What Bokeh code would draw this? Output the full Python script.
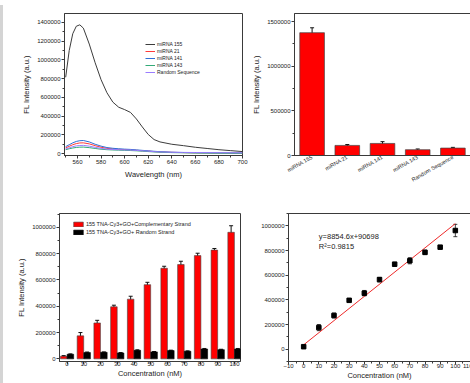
from bokeh.plotting import figure
from bokeh.models import (ColumnDataSource, Whisker, TeeHead, FactorRange, Label, Div, Spacer,
                          SingleIntervalTicker, FixedTicker, BasicTickFormatter, Range1d)
from bokeh.layouts import row, column
from bokeh.transform import dodge
from bokeh.embed import file_html
from bokeh.resources import INLINE

# ---------------- data ----------------
wavelength = [550, 553, 556, 559, 562, 565, 570, 575, 580, 585, 590, 595, 600, 605, 610, 615,
              620, 625, 630, 640, 650, 660, 670, 680, 690, 700]
mirna155 = [815000, 1100000, 1280000, 1360000, 1375000, 1340000, 1170000, 970000, 790000, 650000,
            550000, 495000, 470000, 440000, 370000, 285000, 205000, 150000, 125000, 100000, 85000,
            68000, 55000, 42000, 32000, 22000]
mirna21 = [62000, 78000, 95000, 107000, 114000, 115000, 104000, 85000, 68000, 56000, 50000, 46000,
           43000, 40000, 36000, 31000, 27000, 22000, 19000, 14000, 11000, 9000, 8000, 7000, 6000, 5000]
mirna141 = [75000, 95000, 115000, 130000, 138000, 140000, 125000, 100000, 80000, 65000, 57000, 52000,
            48000, 45000, 40000, 35000, 30000, 25000, 21000, 15000, 12000, 10000, 9000, 8000, 7000, 6000]
mirna143 = [42000, 52000, 60000, 66000, 69000, 70000, 64000, 55000, 47000, 42000, 39000, 37000,
            35000, 33000, 30000, 26000, 22000, 18000, 15000, 11000, 9000, 7000, 6000, 5000, 4000, 3000]
random_seq = [50000, 62000, 74000, 83000, 87000, 88000, 80000, 67000, 56000, 48000, 44000, 42000,
              40000, 38000, 34000, 30000, 26000, 21000, 18000, 14000, 13000, 12000, 11000, 10000, 9000, 8000]

bar_cats = ["miRNA 155", "miRNA 21", "miRNA 141", "miRNA 143", "Random Sequence"]
bar_vals = [1375000, 113000, 135000, 65000, 83000]
bar_errs = [55000, 10000, 20000, 8000, 8000]

conc = [0, 10, 20, 30, 40, 50, 60, 70, 80, 90, 100]
comp = [20000, 175000, 273000, 396000, 454000, 564000, 689000, 717000, 785000, 827000, 962000]
comp_err = [5000, 25000, 20000, 12000, 22000, 18000, 15000, 25000, 18000, 12000, 50000]
rand = [35000, 48000, 50000, 45000, 65000, 53000, 63000, 58000, 75000, 70000, 75000]
rand_err = [3000, 4000, 3000, 3000, 4000, 3000, 3000, 3000, 4000, 3000, 4000]

fit_x = [0, 100]
fit_y = [35000, 1018000]
eq_text = "y=8854.6x+90698"
r2_text = "R\u00b2=0.9815"

FONT = "Liberation Sans"
INK = "#222222"


def style(p):
    p.xgrid.visible = False
    p.ygrid.visible = False
    p.outline_line_color = "#3a3a3a"
    p.outline_line_width = 1
    p.background_fill_color = "white"
    p.border_fill_color = "white"
    for ax in p.axis:
        ax.axis_line_color = "#3a3a3a"
        ax.major_tick_in = 0
        ax.major_tick_out = 3
        ax.minor_tick_in = 0
        ax.minor_tick_out = 2
        ax.major_tick_line_color = "#3a3a3a"
        ax.minor_tick_line_color = "#3a3a3a"
        ax.major_label_text_font = FONT
        ax.major_label_text_font_size = "6px"
        ax.major_label_text_color = INK
        ax.axis_label_text_font = FONT
        ax.axis_label_text_font_size = "7.5px"
        ax.axis_label_text_font_style = "normal"
        ax.axis_label_text_color = INK
        ax.major_label_standoff = 1
        ax.axis_label_standoff = 3


# ---------------- panel 1: spectra ----------------
p1 = figure(width=241, height=190, output_backend="svg", toolbar_location=None,
            x_range=Range1d(549, 700), y_range=Range1d(-20000, 1496000),
            min_border_left=56, min_border_right=7, min_border_top=13, min_border_bottom=35)
src1 = ColumnDataSource(dict(w=wavelength, a=mirna155, b=mirna21, c=mirna141, d=mirna143, e=random_seq))
p1.line("w", "a", source=src1, line_color="#3c3c3c", line_width=1, legend_label="miRNA 155")
p1.line("w", "b", source=src1, line_color="#ff3b3b", line_width=1, legend_label="miRNA 21")
p1.line("w", "c", source=src1, line_color="#2f6fd6", line_width=1, legend_label="miRNA 141")
p1.line("w", "d", source=src1, line_color="#33aa77", line_width=1, legend_label="miRNA 143")
p1.line("w", "e", source=src1, line_color="#9a7cff", line_width=1, legend_label="Random Sequence")
p1.xaxis.ticker = SingleIntervalTicker(interval=20, num_minor_ticks=2)
p1.yaxis.ticker = SingleIntervalTicker(interval=200000, num_minor_ticks=2)
p1.yaxis.formatter = BasicTickFormatter(use_scientific=False)
p1.xaxis.axis_label = "Wavelength (nm)"
p1.yaxis.axis_label = "FL Intensity (a.u.)"
style(p1)
lg = p1.legend[0]
lg.location = (81, 80)
lg.background_fill_alpha = 0
lg.border_line_alpha = 0
lg.label_text_font = FONT
lg.label_text_font_size = "5px"
lg.label_text_color = INK
lg.glyph_height = 6
lg.glyph_width = 10
lg.label_height = 6
lg.spacing = 1
lg.padding = 0
lg.margin = 0
lg.label_standoff = 2

# ---------------- panel 2: bars ----------------
p2 = figure(width=223, height=190, output_backend="svg", toolbar_location=None,
            x_range=FactorRange(factors=bar_cats), y_range=Range1d(0, 1590000),
            min_border_left=43, min_border_right=2, min_border_top=12, min_border_bottom=34)
src2 = ColumnDataSource(dict(cat=bar_cats, v=bar_vals,
                             lo=[v - e for v, e in zip(bar_vals, bar_errs)],
                             hi=[v + e for v, e in zip(bar_vals, bar_errs)]))
p2.vbar(x="cat", top="v", width=0.7, source=src2, fill_color="#ff0000",
        line_color="#444444", line_width=0.7)
p2.add_layout(Whisker(base="cat", lower="lo", upper="hi", source=src2, line_color="#111111",
                      line_width=1,
                      upper_head=TeeHead(size=4, line_color="#111111", line_width=1),
                      lower_head=TeeHead(size=4, line_color="#111111", line_width=1)))
p2.yaxis.ticker = SingleIntervalTicker(interval=500000, num_minor_ticks=2)
p2.yaxis.formatter = BasicTickFormatter(use_scientific=False)
p2.yaxis.axis_label = "FL Intensity (a.u.)"
style(p2)
p2.xaxis.major_label_orientation = 0.52
p2.xaxis.major_label_text_font_size = "5.5px"
p2.xaxis.major_tick_out = 0

# ---------------- panel 3: grouped bars ----------------
p3 = figure(width=239, height=193, output_backend="svg", toolbar_location=None,
            x_range=Range1d(-4.5, 103.6), y_range=Range1d(-20000, 1105000),
            min_border_left=51, min_border_right=7, min_border_top=23, min_border_bottom=20)
src3 = ColumnDataSource(dict(c=conc, a=comp, b=rand,
                             alo=[v - e for v, e in zip(comp, comp_err)],
                             ahi=[v + e for v, e in zip(comp, comp_err)],
                             blo=[v - e for v, e in zip(rand, rand_err)],
                             bhi=[v + e for v, e in zip(rand, rand_err)]))
p3.vbar(x=dodge("c", -2, range=p3.x_range), top="a", width=3.9, source=src3,
        fill_color="#ff0000", line_color="#444444", line_width=0.6,
        legend_label="155 TNA-Cy3+GO+Complementary Strand")
p3.vbar(x=dodge("c", 2, range=p3.x_range), top="b", width=3.9, source=src3,
        fill_color="#000000", line_color="#000000", line_width=0.6,
        legend_label="155 TNA-Cy3+GO+ Random Strand")
for base_off, lo, hi in ((-2, "alo", "ahi"), (2, "blo", "bhi")):
    p3.add_layout(Whisker(base=dodge("c", base_off, range=p3.x_range), lower=lo, upper=hi,
                          source=src3, line_color="#111111", line_width=1,
                          upper_head=TeeHead(size=4, line_color="#111111", line_width=1),
                          lower_head=TeeHead(size=4, line_color="#111111", line_width=1)))
p3.xaxis.ticker = FixedTicker(ticks=conc)
p3.yaxis.ticker = SingleIntervalTicker(interval=200000, num_minor_ticks=2)
p3.yaxis.formatter = BasicTickFormatter(use_scientific=False)
p3.xaxis.axis_label = "Concentration (nM)"
p3.yaxis.axis_label = "FL Intensity (a.u.)"
style(p3)
p3.xaxis.major_label_standoff = -3
p3.xaxis.axis_label_standoff = 0
lg3 = p3.legend[0]
lg3.location = (13, 126)
lg3.background_fill_alpha = 0
lg3.border_line_alpha = 0
lg3.label_text_font = FONT
lg3.label_text_font_size = "5.5px"
lg3.label_text_color = INK
lg3.glyph_height = 6
lg3.glyph_width = 12
lg3.label_height = 6
lg3.spacing = 2
lg3.padding = 0
lg3.margin = 0
lg3.label_standoff = 2

# ---------------- panel 4: calibration ----------------
p4 = figure(width=225, height=193, output_backend="svg", toolbar_location=None,
            x_range=Range1d(-10, 110), y_range=Range1d(-100000, 1100000),
            min_border_left=41, min_border_right=2, min_border_top=23, min_border_bottom=22)
src4 = ColumnDataSource(dict(c=conc, a=comp,
                             lo=[v - e for v, e in zip(comp, comp_err)],
                             hi=[v + e for v, e in zip(comp, comp_err)]))
p4.line(fit_x, fit_y, line_color="#ee2a2a", line_width=1)
p4.add_layout(Whisker(base="c", lower="lo", upper="hi", source=src4, line_color="#111111",
                      line_width=0.8,
                      upper_head=TeeHead(size=4, line_color="#111111", line_width=0.8),
                      lower_head=TeeHead(size=4, line_color="#111111", line_width=0.8)))
p4.scatter("c", "a", source=src4, marker="square", size=4.5, fill_color="#000000", line_color="#000000")
p4.xaxis.ticker = SingleIntervalTicker(interval=10, num_minor_ticks=2)
p4.yaxis.ticker = SingleIntervalTicker(interval=200000, num_minor_ticks=2)
p4.yaxis.formatter = BasicTickFormatter(use_scientific=False)
p4.xaxis.axis_label = "Concentration (nM)"
style(p4)
p4.xaxis.major_label_standoff = -1
p4.xaxis.axis_label_standoff = 0
p4.add_layout(Label(x=10, y=917000, text=eq_text, text_font=FONT, text_font_size="7.5px",
                    text_color=INK, text_baseline="middle"))
p4.add_layout(Label(x=10, y=830000, text=r2_text, text_font=FONT, text_font_size="7.5px",
                    text_color=INK, text_baseline="middle"))

# ---------------- layout ----------------
strip = Div(text="", width=3, height=383, styles={"background-color": "#d4d4d4"})
grid = column(row(p1, p2), row(p3, p4))
root = row(Spacer(width=3, height=383), strip, grid,
           styles={"margin-left": "-8px"})

open("out.html", "w").write(file_html(root, INLINE))
